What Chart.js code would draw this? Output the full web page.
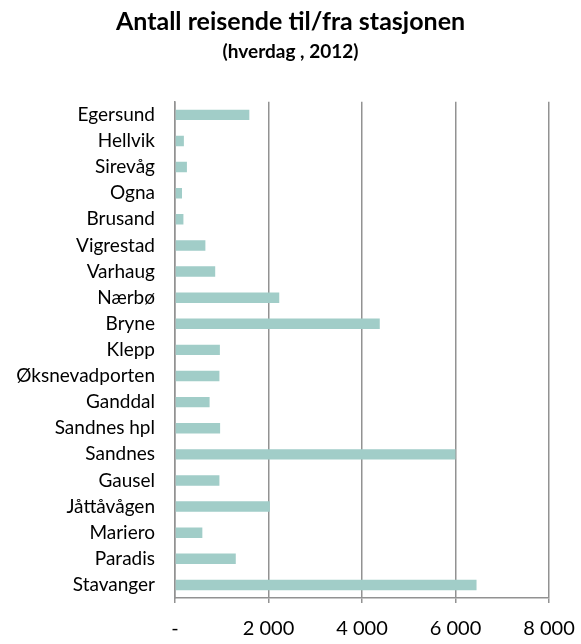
<!DOCTYPE html>
<html>
<head>
<meta charset="utf-8">
<script src="https://cdn.jsdelivr.net/npm/chart.js@4"></script>
<style>
  html, body { margin: 0; padding: 0; background: #fff; }
  #wrap { width: 581px; height: 644px; }
</style>
</head>
<body>
<div id="wrap"><canvas id="reiseChart" width="581" height="644"></canvas></div>
<script>
const stations = ['Egersund', 'Hellvik', 'Sirevåg', 'Ogna', 'Brusand', 'Vigrestad', 'Varhaug', 'Nærbø', 'Bryne', 'Klepp',
  'Øksnevadporten', 'Ganddal', 'Sandnes hpl', 'Sandnes', 'Gausel', 'Jåttåvågen', 'Mariero', 'Paradis', 'Stavanger'];
const travellers = [1590, 190, 255, 150, 180, 650, 860, 2230, 4380, 960,
  950, 740, 965, 6000, 950, 2030, 585, 1300, 6450];
const axisTicks = [0, 2000, 4000, 6000, 8000];

const fontFamily = 'Lato, "Open Sans", sans-serif';
const lineGray = '#929292';

function formatTick(v) {
  if (v === 0) return '-';
  return String(v).replace(/\B(?=(\d{3})+(?!\d))/g, ' ');
}

const ctx = document.getElementById('reiseChart');

new Chart(ctx, {
  type: 'bar',
  data: {
    labels: stations,
    datasets: [
      {
        data: travellers,
        backgroundColor: '#a1cdc8',
        barPercentage: 0.4,
        categoryPercentage: 1,
      },
    ],
  },
  options: {
    responsive: false,
    animation: false,
    indexAxis: 'y',
    layout: {
      padding: 0,
    },
    plugins: {
      legend: { display: false },
      tooltip: { enabled: false },
      title: {
        display: true,
        text: 'Antall reisende til/fra stasjonen',
        color: '#000',
        font: { family: fontFamily, size: 25, weight: 'bold' },
        padding: { top: 7, bottom: 1 },
      },
      subtitle: {
        display: true,
        text: '(hverdag , 2012)',
        color: '#000',
        font: { family: fontFamily, size: 19, weight: 'bold' },
        padding: { top: 2, bottom: 39 },
      },
    },
    scales: {
      x: {
        min: 0,
        max: 8000,
        afterBuildTicks: (scale) => {
          scale.ticks = axisTicks.map((v) => ({ value: v }));
        },
        afterFit: (scale) => {
          // fixed axis band; the right edge is set by the spacer axis
          scale.height = 46;
          scale.paddingLeft = 0;
          scale.paddingRight = 0;
        },
        ticks: {
          callback: (v) => formatTick(v),
          color: '#000',
          font: { family: fontFamily, size: 20 },
          padding: 14,
          maxRotation: 0,
        },
        grid: {
          color: lineGray,
          lineWidth: 1.5,
          tickLength: 5,
        },
        border: { display: true, color: lineGray, width: 1.5 },
      },
      y: {
        afterFit: (scale) => {
          scale.width = 175;
        },
        ticks: {
          autoSkip: false,
          color: '#000',
          font: { family: fontFamily, size: 19 },
          padding: 12,
        },
        grid: { display: false },
        border: { display: true, color: lineGray, width: 1.5 },
      },
      // empty axis on the right keeps room for the last tick label
      yRight: {
        position: 'right',
        display: true,
        afterFit: (scale) => {
          scale.width = 32;
        },
        ticks: { display: false },
        grid: { display: false },
        border: { display: false },
      },
    },
  },
});
</script>
</body>
</html>
